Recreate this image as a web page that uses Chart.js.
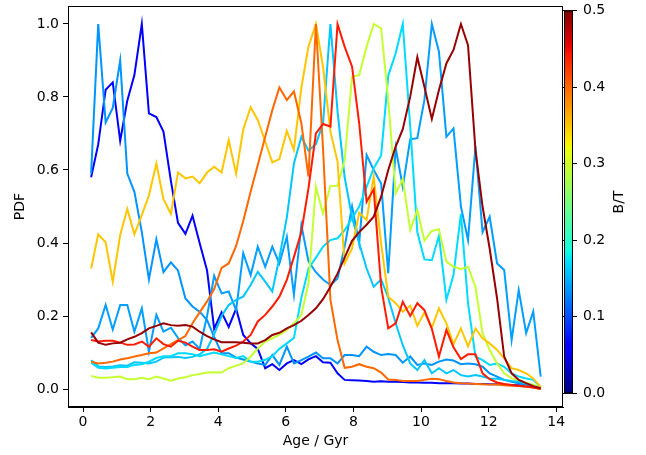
<!DOCTYPE html>
<html>
<head>
<meta charset="utf-8">
<script src="https://cdn.jsdelivr.net/npm/chart.js@4.4.0/dist/chart.umd.min.js"></script>
<style>
  html, body { margin: 0; padding: 0; background: #fff; }
</style>
</head>
<body>
<canvas id="pdfChart" width="646" height="455"></canvas>
<script>
// age grid (Gyr)
const ages = [0.24, 0.45, 0.67, 0.88, 1.10, 1.31, 1.52, 1.74, 1.95, 2.17, 2.38, 2.60, 2.81, 3.03, 3.24, 3.45,
  3.67, 3.88, 4.10, 4.31, 4.53, 4.74, 4.96, 5.17, 5.39, 5.60, 5.81, 6.03, 6.24, 6.46, 6.67, 6.89, 7.10, 7.32,
  7.53, 7.74, 7.96, 8.17, 8.39, 8.60, 8.82, 9.03, 9.25, 9.46, 9.68, 9.89, 10.10, 10.32, 10.53, 10.75, 10.96,
  11.18, 11.39, 11.61, 11.82, 12.03, 12.25, 12.46, 12.68, 12.89, 13.11, 13.32, 13.54];

// bulge-to-total ratio of each galaxy (colour of the line)
const btValues = [0.06, 0.135, 0.14, 0.16, 0.17, 0.295, 0.35, 0.40, 0.44, 0.49];

const pdfA = [0.58, 0.67, 0.82, 0.84, 0.68, 0.79, 0.86, 1.00, 0.755, 0.745, 0.705, 0.57, 0.455, 0.425, 0.475, 0.40,
  0.325, 0.165, 0.21, 0.17, 0.22, 0.148, 0.125, 0.11, 0.057, 0.068, 0.052, 0.07, 0.079, 0.068, 0.081, 0.09, 0.073,
  0.072, 0.043, 0.025, 0.024, 0.023, 0.022, 0.02, 0.021, 0.02, 0.02, 0.019, 0.018, 0.018, 0.017, 0.017, 0.016,
  0.016, 0.016, 0.015, 0.015, 0.014, 0.014, 0.013, 0.013, 0.012, 0.011, 0.01, 0.008, 0.005, 0.001];
const pdfB = [0.59, 1.00, 0.73, 0.77, 0.90, 0.59, 0.54, 0.43, 0.30, 0.41, 0.32, 0.347, 0.325, 0.248, 0.226, 0.212,
  0.189, 0.143, 0.098, 0.098, 0.086, 0.081, 0.075, 0.07, 0.066, 0.093, 0.066, 0.116, 0.07, 0.079, 0.089, 0.10,
  0.084, 0.084, 0.07, 0.093, 0.093, 0.09, 0.116, 0.102, 0.093, 0.096, 0.093, 0.072, 0.089, 0.066, 0.07, 0.066,
  0.075, 0.081, 0.078, 0.068, 0.07, 0.068, 0.061, 0.043, 0.034, 0.025, 0.02, 0.016, 0.011, 0.007, 0.002];
const pdfH = [0.14, 0.166, 0.23, 0.163, 0.23, 0.23, 0.157, 0.221, 0.102, 0.203, 0.157, 0.168, 0.14, 0.12, 0.13,
  0.11, 0.20, 0.31, 0.262, 0.267, 0.216, 0.372, 0.312, 0.39, 0.335, 0.39, 0.344, 0.417, 0.258, 0.449, 0.35, 0.32,
  0.30, 0.285, 0.303, 0.39, 0.50, 0.399, 0.641, 0.60, 0.563, 0.317, 0.66, 0.554, 0.684, 0.687, 0.792, 1.00, 0.924,
  0.691, 0.714, 0.50, 0.408, 0.664, 0.43, 0.472, 0.344, 0.326, 0.134, 0.271, 0.153, 0.212, 0.034];
const pdfE = [0.079, 0.062, 0.06, 0.062, 0.065, 0.064, 0.073, 0.072, 0.07, 0.075, 0.086, 0.087, 0.088, 0.085, 0.088,
  0.095, 0.11, 0.15, 0.20, 0.23, 0.244, 0.253, 0.285, 0.321, 0.294, 0.267, 0.36, 0.47, 0.618, 0.691, 0.653, 0.671,
  0.728, 1.00, 0.76, 0.58, 0.47, 0.40, 0.33, 0.28, 0.30, 0.25, 0.18, 0.12, 0.07, 0.052, 0.079, 0.043, 0.057, 0.043,
  0.052, 0.038, 0.034, 0.038, 0.034, 0.029, 0.028, 0.025, 0.022, 0.02, 0.016, 0.01, 0.003];
const pdfG = [0.072, 0.058, 0.056, 0.058, 0.06, 0.06, 0.066, 0.068, 0.075, 0.085, 0.09, 0.09, 0.098, 0.098, 0.095,
  0.09, 0.095, 0.10, 0.095, 0.09, 0.085, 0.09, 0.075, 0.075, 0.08, 0.09, 0.11, 0.125, 0.14, 0.25, 0.33, 0.36, 0.39,
  0.408, 0.413, 0.435, 0.468, 0.50, 0.554, 0.605, 0.64, 0.858, 0.92, 1.00, 0.72, 0.43, 0.355, 0.353, 0.42, 0.244,
  0.312, 0.48, 0.235, 0.089, 0.079, 0.066, 0.07, 0.061, 0.043, 0.034, 0.029, 0.025, 0.005];
const pdfF = [0.036, 0.031, 0.031, 0.032, 0.034, 0.027, 0.027, 0.031, 0.027, 0.034, 0.029, 0.023, 0.029, 0.032,
  0.038, 0.041, 0.045, 0.046, 0.045, 0.057, 0.064, 0.07, 0.089, 0.111, 0.13, 0.139, 0.148, 0.162, 0.18, 0.203,
  0.29, 0.554, 0.481, 0.556, 0.557, 0.627, 0.856, 0.86, 0.938, 1.00, 0.988, 0.792, 0.536, 0.575, 0.436, 0.49,
  0.406, 0.433, 0.438, 0.349, 0.335, 0.329, 0.335, 0.28, 0.153, 0.107, 0.07, 0.043, 0.029, 0.025, 0.017, 0.011, 0.002];
const pdfC = [0.33, 0.424, 0.402, 0.294, 0.422, 0.493, 0.424, 0.477, 0.53, 0.618, 0.52, 0.48, 0.593, 0.577, 0.582,
  0.564, 0.593, 0.609, 0.593, 0.682, 0.59, 0.711, 0.772, 0.737, 0.678, 0.621, 0.63, 0.707, 0.655, 0.826, 0.938,
  1.00, 0.883, 0.705, 0.623, 0.344, 0.385, 0.483, 0.463, 0.582, 0.399, 0.253, 0.235, 0.212, 0.228, 0.173, 0.21,
  0.168, 0.221, 0.18, 0.123, 0.166, 0.117, 0.166, 0.139, 0.125, 0.107, 0.084, 0.057, 0.052, 0.043, 0.029, 0.005];
const pdfD = [0.075, 0.07, 0.072, 0.075, 0.081, 0.084, 0.089, 0.093, 0.098, 0.10, 0.111, 0.123, 0.134, 0.145, 0.18,
  0.21, 0.24, 0.274, 0.332, 0.344, 0.392, 0.46, 0.541, 0.614, 0.691, 0.764, 0.826, 0.792, 0.815, 0.728, 0.582,
  1.00, 0.66, 0.244, 0.134, 0.058, 0.061, 0.068, 0.061, 0.057, 0.045, 0.026, 0.025, 0.022, 0.022, 0.022, 0.025,
  0.028, 0.027, 0.022, 0.018, 0.016, 0.015, 0.014, 0.013, 0.012, 0.012, 0.01, 0.009, 0.008, 0.006, 0.004, 0.0];
const pdfI = [0.134, 0.13, 0.132, 0.132, 0.127, 0.121, 0.122, 0.13, 0.116, 0.139, 0.123, 0.116, 0.132, 0.127,
  0.116, 0.107, 0.107, 0.109, 0.102, 0.111, 0.119, 0.13, 0.148, 0.185, 0.203, 0.226, 0.253, 0.299, 0.362, 0.43,
  0.55, 0.70, 0.726, 0.719, 1.00, 0.938, 0.883, 0.728, 0.513, 0.547, 0.28, 0.166, 0.18, 0.239, 0.20, 0.235, 0.216,
  0.165, 0.089, 0.162, 0.114, 0.082, 0.095, 0.095, 0.043, 0.027, 0.018, 0.014, 0.011, 0.009, 0.007, 0.004, 0.001];
const pdfJ = [0.155, 0.127, 0.121, 0.125, 0.127, 0.136, 0.143, 0.153, 0.166, 0.173, 0.18, 0.175, 0.173, 0.175,
  0.171, 0.157, 0.145, 0.136, 0.128, 0.128, 0.128, 0.127, 0.125, 0.125, 0.134, 0.148, 0.154, 0.166, 0.175, 0.187,
  0.203, 0.221, 0.246, 0.28, 0.316, 0.36, 0.406, 0.43, 0.45, 0.472, 0.527, 0.60, 0.664, 0.712, 0.801, 0.909,
  0.828, 0.74, 0.819, 0.892, 0.929, 1.00, 0.942, 0.655, 0.50, 0.385, 0.248, 0.089, 0.043, 0.025, 0.016, 0.008, 0.002];

const pdfSeries = [pdfA, pdfB, pdfH, pdfE, pdfG, pdfF, pdfC, pdfD, pdfI, pdfJ];
const xTicks = [0, 2, 4, 6, 8, 10, 12, 14];
const yTicks = [0, 0.2, 0.4, 0.6, 0.8, 1.0];
const cbTicks = [0, 0.1, 0.2, 0.3, 0.4, 0.5];
const btMax = 0.5;

// matplotlib "jet" segment data
const jetR = [[0, 0], [0.35, 0], [0.66, 1], [0.89, 1], [1, 0.5]];
const jetG = [[0, 0], [0.125, 0], [0.375, 1], [0.64, 1], [0.91, 0], [1, 0]];
const jetB = [[0, 0.5], [0.11, 1], [0.34, 1], [0.65, 0], [1, 0]];

function seg(table, t) {
  for (let k = 1; k < table.length; k++) {
    if (t <= table[k][0]) {
      const [x0, y0] = table[k - 1], [x1, y1] = table[k];
      return y0 + (y1 - y0) * (t - x0) / (x1 - x0);
    }
  }
  return table[table.length - 1][1];
}
function jet(t) {
  t = Math.max(0, Math.min(1, t));
  const r = Math.round(255 * seg(jetR, t));
  const g = Math.round(255 * seg(jetG, t));
  const b = Math.round(255 * seg(jetB, t));
  return `rgb(${r},${g},${b})`;
}

const font = { family: "'DejaVu Sans', sans-serif", size: 14 };

// draw order: last in list ends on top
const datasets = pdfSeries.map((vals, k) => ({
  data: vals.map((v, i) => ({ x: ages[i], y: v })),
  borderColor: jet(btValues[k] / btMax),
  borderWidth: 2,
  pointRadius: 0,
  fill: false,
  tension: 0,
})).reverse();

const frameAndColorbar = {
  id: 'frameAndColorbar',
  afterDraw(chart) {
    const ctx = chart.ctx;
    const { left, right, top, bottom } = chart.chartArea;
    const cb = chart.scales.cb;
    const y0 = cb.getPixelForValue(0);
    const y1 = cb.getPixelForValue(btMax);
    const x0 = right + 1, x1 = right + 10;
    ctx.save();
    const grad = ctx.createLinearGradient(0, y0, 0, y1);
    for (let s = 0; s <= 100; s++) grad.addColorStop(s / 100, jet(s / 100));
    ctx.fillStyle = grad;
    ctx.fillRect(x0, y1, x1 - x0, y0 - y1);
    ctx.strokeStyle = '#000';
    ctx.lineWidth = 1;
    ctx.strokeRect(x0 + 0.5, y1 + 0.5, x1 - x0 - 1, y0 - y1 - 1);
    // plot frame
    ctx.strokeRect(Math.round(left) + 0.5, Math.round(top) + 0.5, Math.round(right - left) - 1, Math.round(bottom - top) - 1);
    // colorbar label
    ctx.fillStyle = '#000';
    ctx.font = "14px 'DejaVu Sans', sans-serif";
    ctx.textAlign = 'center';
    ctx.textBaseline = 'middle';
    ctx.translate(619, (y0 + y1) / 2);
    ctx.rotate(-Math.PI / 2);
    ctx.fillText('B/T', 0, 0);
    ctx.restore();
  }
};

const noEdgePadding = (s) => { s.paddingTop = 0; s.paddingBottom = 0; };

new Chart(document.getElementById('pdfChart'), {
  type: 'line',
  data: { datasets },
  options: {
    responsive: false,
    animation: false,
    devicePixelRatio: 1,
    layout: { padding: { top: 6, left: 0, right: 0, bottom: 0 } },
    plugins: { legend: { display: false }, tooltip: { enabled: false } },
    scales: {
      x: {
        type: 'linear',
        min: -0.444,
        max: 14.2,
        afterBuildTicks: (s) => { s.ticks = xTicks.map(v => ({ value: v })); },
        afterFit: (s) => { s.height = 48; s.paddingLeft = 0; s.paddingRight = 0; },
        ticks: { color: '#000', font, padding: 2, maxRotation: 0, callback: (v) => String(v) },
        grid: { drawOnChartArea: false, color: '#000', tickLength: 5, tickWidth: 1 },
        border: { color: '#000', width: 1 },
        title: { display: true, text: 'Age / Gyr', color: '#000', font, padding: { top: 0, bottom: 5 } },
      },
      y: {
        min: -0.0493,
        max: 1.0493,
        afterBuildTicks: (s) => { s.ticks = yTicks.map(v => ({ value: v })); },
        afterFit: (s) => { s.width = 68; noEdgePadding(s); },
        ticks: { color: '#000', font, padding: 4, callback: (v) => v.toFixed(1) },
        grid: { drawOnChartArea: false, color: '#000', tickLength: 5, tickWidth: 1 },
        border: { color: '#000', width: 1 },
        title: { display: true, text: 'PDF', color: '#000', font, padding: { top: 12, bottom: 0 } },
      },
      cb: {
        type: 'linear',
        position: 'right',
        min: -0.0179,
        max: 0.5061,
        afterBuildTicks: (s) => { s.ticks = cbTicks.map(v => ({ value: v })); },
        afterFit: (s) => { s.width = 83; noEdgePadding(s); },
        ticks: { color: '#000', font, padding: 6, callback: (v) => v.toFixed(1) },
        grid: { drawOnChartArea: false, color: '#000', tickLength: 14, tickWidth: 1 },
        border: { display: false },
      },
    },
  },
  plugins: [frameAndColorbar],
});
</script>
</body>
</html>
